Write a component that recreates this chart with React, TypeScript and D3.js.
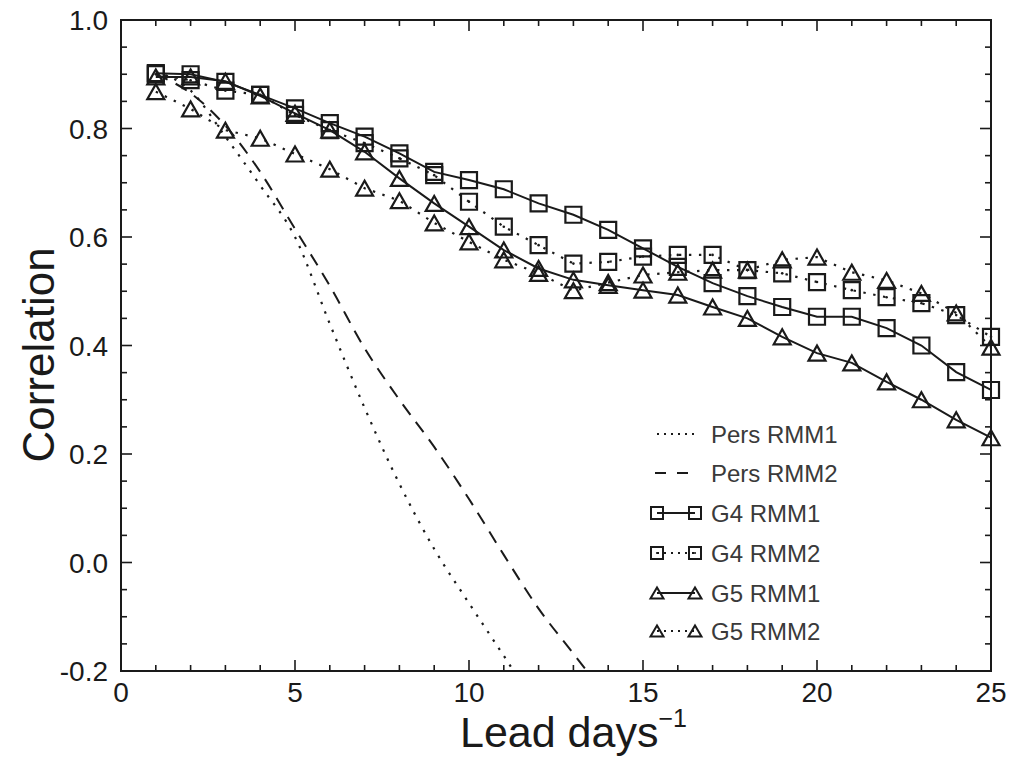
import React from "react";
import * as d3 from "d3";

const leadDays = [1, 2, 3, 4, 5, 6, 7, 8, 9, 10, 11, 12, 13, 14, 15, 16, 17, 18, 19, 20, 21, 22, 23, 24, 25];
const g4Rmm1 = [0.902, 0.900, 0.886, 0.862, 0.837, 0.810, 0.785, 0.754, 0.720, 0.705, 0.688, 0.662, 0.641, 0.613, 0.579, 0.545, 0.515, 0.491, 0.471, 0.453, 0.453, 0.432, 0.400, 0.351, 0.318];
const g4Rmm2 = [0.900, 0.889, 0.870, 0.862, 0.825, 0.797, 0.773, 0.745, 0.714, 0.665, 0.619, 0.585, 0.551, 0.554, 0.564, 0.567, 0.567, 0.539, 0.533, 0.517, 0.502, 0.489, 0.478, 0.456, 0.416];
const g5Rmm1 = [0.895, 0.895, 0.887, 0.860, 0.828, 0.797, 0.757, 0.708, 0.662, 0.619, 0.576, 0.542, 0.521, 0.511, 0.502, 0.493, 0.471, 0.450, 0.416, 0.386, 0.368, 0.333, 0.300, 0.263, 0.230];
const g5Rmm2 = [0.868, 0.836, 0.797, 0.782, 0.753, 0.725, 0.690, 0.667, 0.626, 0.591, 0.558, 0.533, 0.501, 0.516, 0.530, 0.535, 0.539, 0.539, 0.558, 0.563, 0.535, 0.520, 0.496, 0.460, 0.397];

const persDays = [1, 2, 3, 4, 5, 6, 7, 8, 9, 10, 11, 12, 13, 14];
const persRmm1 = [0.905, 0.870, 0.785, 0.695, 0.600, 0.440, 0.285, 0.145, 0.025, -0.075, -0.172, -0.270, -0.360, -0.450];
const persRmm2 = [0.900, 0.865, 0.805, 0.720, 0.615, 0.510, 0.395, 0.300, 0.213, 0.117, 0.014, -0.085, -0.168, -0.250];

const xTickLabels = [0, 5, 10, 15, 20, 25];
const yTickLabels = ["-0.2", "0.0", "0.2", "0.4", "0.6", "0.8", "1.0"];
const legendLabels = ["Pers RMM1", "Pers RMM2", "G4 RMM1", "G4 RMM2", "G5 RMM1", "G5 RMM2"];

const W = 1020, H = 763;
const L = 121, R = 991, T = 20, B = 671;
const INK = "#1a1a1a";
const FONT = "'Liberation Sans', Arial, Helvetica, sans-serif";

export default function App() {
  const x = d3.scaleLinear().domain([0, 25]).range([L, R]);
  const y = d3.scaleLinear().domain([-0.2, 1.0]).range([B, T]);

  const lin = d3.line<[number, number]>().x(d => x(d[0])).y(d => y(d[1]));
  const smooth = d3.line<[number, number]>().x(d => x(d[0])).y(d => y(d[1])).curve(d3.curveMonotoneX);

  const pts = (vals: number[], days: number[]) => days.map((dd, i) => [dd, vals[i]] as [number, number]);

  const xMinor = d3.range(0, 25.001, 1);
  const yMinor = d3.range(-0.2, 1.0001, 0.05);

  const sq = (cx: number, cy: number, s: number) => `M${cx - s},${cy - s}H${cx + s}V${cy + s}H${cx - s}Z`;
  const tri = (cx: number, cy: number, w: number, h: number) =>
    `M${cx - w},${cy + h}L${cx + w},${cy + h}L${cx},${cy - h}Z`;

  const DOT = "2.4 7.6";
  const DASH = "13 9";

  const series = [
    { vals: g4Rmm1, marker: "sq", dash: null as string | null },
    { vals: g4Rmm2, marker: "sq", dash: DOT },
    { vals: g5Rmm1, marker: "tri", dash: null },
    { vals: g5Rmm2, marker: "tri", dash: DOT },
  ];

  const legX1 = 657, legX2 = 695, legText = 711;
  const legY = [434, 473, 513, 553, 593, 631];

  return (
    <svg width={W} height={H} style={{ position: "absolute", left: 0, top: 0, background: "#fff" }} fontFamily={FONT}>
      <rect x={0} y={0} width={W} height={H} fill="#fff" />
      <defs>
        <clipPath id="plotclip">
          <rect x={L} y={T} width={R - L} height={B - T} />
        </clipPath>
      </defs>

      {/* persistence curves */}
      <g clipPath="url(#plotclip)" fill="none" stroke={INK}>
        <path d={smooth(pts(persRmm1, persDays)) || ""} strokeWidth={2.2} strokeDasharray={DOT} />
        <path d={smooth(pts(persRmm2, persDays)) || ""} strokeWidth={2} strokeDasharray={DASH} />
      </g>

      {/* model series */}
      <g fill="none" stroke={INK}>
        {series.map((s, k) => (
          <g key={k}>
            <path d={lin(pts(s.vals, leadDays)) || ""} strokeWidth={s.dash ? 2.2 : 2} strokeDasharray={s.dash || undefined} />
            {leadDays.map((dd, i) => {
              const cx = x(dd), cy = y(s.vals[i]);
              return s.marker === "sq" ? (
                <g key={i}>
                  <path d={sq(cx, cy, 8)} strokeWidth={2.2} />
                  {s.dash && <circle cx={cx} cy={cy} r={1.3} fill={INK} stroke="none" />}
                </g>
              ) : (
                <path key={i} d={tri(cx, cy, 8.5, 7.5)} strokeWidth={2.2} strokeLinejoin="miter" />
              );
            })}
          </g>
        ))}
      </g>

      {/* frame */}
      <rect x={L} y={T} width={R - L} height={B - T} fill="none" stroke={INK} strokeWidth={2} />

      {/* ticks */}
      <g stroke={INK} strokeWidth={1.6}>
        {xMinor.map((v, i) => {
          const major = Math.round(v) % 5 === 0;
          const len = major ? 11 : 6;
          const px = x(v);
          return (
            <g key={"xt" + i}>
              <line x1={px} x2={px} y1={B} y2={B - len} />
              <line x1={px} x2={px} y1={T} y2={T + len} />
            </g>
          );
        })}
        {yMinor.map((v, i) => {
          const major = i % 4 === 0;
          const len = major ? 11 : 6;
          const py = y(v);
          return (
            <g key={"yt" + i}>
              <line x1={L} x2={L + len} y1={py} y2={py} />
              <line x1={R} x2={R - len} y1={py} y2={py} />
            </g>
          );
        })}
      </g>

      {/* tick labels */}
      <g fill={INK} fontSize={28}>
        {xTickLabels.map((v) => (
          <text key={"xl" + v} x={x(v)} y={B + 31} textAnchor="middle">{v}</text>
        ))}
        {yTickLabels.map((t) => (
          <text key={"yl" + t} x={L - 13} y={y(+t) + 10} textAnchor="end">{t}</text>
        ))}
      </g>

      {/* axis titles */}
      <text x={460} y={747} fontSize={43} fill={INK}>
        Lead days<tspan fontSize={25} dy={-20}>−1</tspan>
      </text>
      <text transform={`translate(54,355) rotate(-90)`} textAnchor="middle" fontSize={44} fill={INK}>Correlation</text>

      {/* legend */}
      <g stroke={INK} fill="none">
        <line x1={legX1} x2={legX2} y1={legY[0]} y2={legY[0]} strokeWidth={2} strokeDasharray="2 5" />
        <line x1={legX1 - 2} x2={legX2} y1={legY[1]} y2={legY[1]} strokeWidth={2} strokeDasharray="11 11" />
        {[2, 3, 4, 5].map((k) => {
          const isSq = k < 4;
          const dotted = k === 3 || k === 5;
          const ly = legY[k];
          return (
            <g key={"lg" + k}>
              <line x1={legX1} x2={legX2} y1={ly} y2={ly} strokeWidth={dotted ? 2 : 1.8} strokeDasharray={dotted ? "2 5" : undefined} />
              {[legX1, legX2].map((lx, j) =>
                isSq ? (
                  <g key={j}>
                    <path d={sq(lx, ly, 6)} strokeWidth={2} />
                    {dotted && <circle cx={lx} cy={ly} r={1.1} fill={INK} stroke="none" />}
                  </g>
                ) : (
                  <path key={j} d={tri(lx, ly, 6.5, 5.5)} strokeWidth={2} />
                )
              )}
            </g>
          );
        })}
      </g>
      <g fill="#3a3a3a" fontSize={24}>
        {legendLabels.map((t, i) => (
          <text key={t} x={legText} y={legY[i] + 9}>{t}</text>
        ))}
      </g>
    </svg>
  );
}
